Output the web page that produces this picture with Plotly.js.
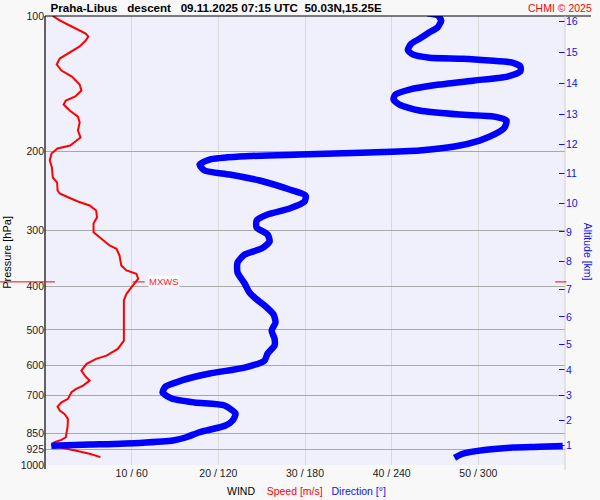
<!DOCTYPE html>
<html>
<head>
<meta charset="utf-8">
<script src="https://cdn.plot.ly/plotly-3.0.1.min.js"></script>
<style>html,body{margin:0;padding:0;background:#f8f8f8;}#chart{width:600px;height:500px;}</style>
</head>
<body>
<div id="chart"></div>
<script>
// Wind speed profile [m/s] vs pressure [hPa]
const speedPressure = [100, 102.3, 105.0, 107.7, 109.4, 111.1, 113.4, 116.9, 120.6, 124.4, 128.2, 132.3, 136.4, 142.1, 146.6, 151.1, 154.3, 157.5, 162.4, 167.5, 172.7, 179.9, 186.5, 194.3, 197.3, 202.4, 209.8, 217.5, 228.9, 234.9, 244.7, 248.5, 253.3, 258.9, 264.2, 271.1, 280.6, 289.8, 303.0, 310.9, 324.4, 330.0, 341.5, 359.5, 368.8, 375.1, 384.8, 398.2, 415.6, 430.1, 452.8, 501.9, 528.3, 551.3, 570.6, 580.4, 595.4, 616.2, 632.2, 648.7, 665.3, 676.7, 688.6, 712.3, 724.8, 741.0, 756.3, 769.3, 789.2, 823.9, 867.3, 879.0, 889.8, 905.0, 909.7, 915.8, 933.3, 944.1, 960.5];
const speedValue = [0.9, 1.7, 2.85, 4.0, 4.7, 5.0, 4.7, 4.0, 2.85, 1.7, 1.35, 1.9, 3.1, 4.0, 4.2, 3.5, 2.4, 2.15, 2.85, 3.8, 4.0, 3.8, 4.1, 2.9, 1.45, 0.75, 0.55, 0.8, 0.9, 1.4, 1.45, 1.7, 2.65, 3.8, 5.15, 5.9, 6.0, 5.6, 5.6, 6.3, 7.45, 8.25, 8.6, 8.8, 9.4, 10.55, 10.75, 10.15, 9.4, 9.1, 9.1, 9.1, 9.1, 8.4, 7.1, 5.9, 4.8, 4.2, 4.6, 5.15, 4.4, 3.6, 3.05, 2.65, 1.9, 1.45, 1.7, 2.25, 2.65, 2.6, 2.4, 1.9, 1.1, 0.75, 1.35, 2.1, 4.0, 5.15, 6.4];

// Wind direction [deg] vs pressure [hPa] (null = wrap through 360/0)
const dirPressure = [98.6, 99.7, 102.3, 105.9, 108.7, 112.4, 115.3, 119.0, 121.8, 123.9, 124.5, 125.6, 126.9, 129.5, 132.9, 136.4, 139.2, 142.1, 145.8, 149.6, 153.5, 157.5, 162.4, 165.8, 167.5, 170.9, 177.2, 183.6, 189.4, 195.3, 199.3, 201.4, 203.5, 205.6, 208.8, 214.2, 220.9, 225.4, 232.5, 243.5, 251.1, 258.9, 268.4, 276.8, 285.5, 295.8, 306.6, 317.8, 329.5, 339.8, 354.0, 372.7, 394.2, 412.9, 425.8, 441.4, 462.1, 481.5, 501.9, 523.0, 541.9, 564.6, 585.3, 606.7, 625.6, 648.2, 668.6, 689.5, 711.1, 725.9, 737.2, 768.2, 796.2, 816.8, 845.4, 867.3, 882.3, 892.8, 900.5, 906, null, 907, 911, 914.3, 925.1, 944.1, 963.8];
const dirValue = [264.8, 271.9, 274.3, 271.9, 266.2, 259.3, 253.5, 251.2, 254.6, 266.2, 289.2, 307.7, 322.9, 329.1, 329.1, 320.1, 297.3, 273.1, 252.3, 242.6, 241.3, 245.4, 259.3, 286.9, 311.1, 319.5, 318.1, 311.1, 300.8, 283.5, 259.3, 224.7, 176.2, 134.7, 114.0, 107.0, 110.5, 127.8, 148.6, 169.3, 180.4, 179.7, 169.3, 154.1, 146.5, 146.5, 154.1, 155.5, 149.9, 138.2, 133.3, 133.3, 138.2, 141.6, 145.8, 152.0, 158.2, 159.6, 156.9, 158.9, 158.9, 154.1, 152.0, 138.2, 114.0, 94.6, 83.5, 81.4, 87.7, 103.6, 124.3, 131.9, 129.9, 125.0, 107.0, 97.8, 88.6, 65.5, 30.9, 4.4, null, 358.4, 342.3, 323.8, 305.4, 289.2, 283.5];

// Axis ticks
const pressureTicks = [100, 200, 300, 400, 500, 600, 700, 850, 925, 1000];
const pressureLabels = ['100', '200', '300', '400', '500', '600', '700', '850', '925', '1000'];
const altitudeKm = ['1', '2', '3', '4', '5', '6', '7', '8', '9', '10', '11', '12', '13', '14', '15', '16'];
const altitudePressure = [902.6, 794, 698.5, 613.8, 537.7, 468.1, 406.1, 352.5, 302.7, 260.9, 223.7, 192.8, 165.3, 141.0, 120.3, 102.8];
const speedTicks = [10, 20, 30, 40, 50];
const windTickLabels = ['10 / 60', '20 / 120', '30 / 180', '40 / 240', '50 / 300'];

// Max wind level
const mxwsPressure = 391;
const mxwsSpeed = 10.8;

const FONT = 'Liberation Sans, Arial, sans-serif';
const pFrac = p => 3 - Math.log10(p); // paper y of a pressure (reversed log axis, 100 at top)

const traces = [
  {x: speedValue, y: speedPressure, type: 'scatter', mode: 'lines',
   line: {color: '#ff0000', width: 2}, xaxis: 'x', yaxis: 'y', hoverinfo: 'skip'},
  {x: dirValue, y: dirPressure, type: 'scatter', mode: 'lines',
   line: {color: '#0000ff', width: 6.5, shape: 'spline', smoothing: 0.6}, xaxis: 'x2', yaxis: 'y2', hoverinfo: 'skip'}
];

const layout = {
  width: 600, height: 500,
  margin: {l: 45, r: 35, t: 16, b: 35},
  paper_bgcolor: '#f8f8f8',
  plot_bgcolor: '#f0f0fc',
  showlegend: false,
  font: {family: FONT, size: 10.5, color: '#222'},
  title: {
    text: 'Praha-Libus\u00a0\u00a0\u00a0descent\u00a0\u00a0\u00a009.11.2025 07:15 UTC\u00a0\u00a050.03N,15.25E',
    font: {family: FONT, size: 11.6, color: '#000', weight: 'bold'},
    xref: 'container', x: 50.5 / 600, xanchor: 'left',
    yref: 'container', y: 1 - 8 / 500, yanchor: 'middle'
  },
  xaxis: {
    range: [0, 60], autorange: false, fixedrange: true,
    tickmode: 'array', tickvals: speedTicks, ticktext: windTickLabels,
    showgrid: true, gridcolor: '#d9d9d9', gridwidth: 1,
    zeroline: false, showline: false, ticks: '',
    tickfont: {family: FONT, size: 10.5, color: '#222'}
  },
  xaxis2: {range: [0, 360], autorange: false, overlaying: 'x', visible: false, fixedrange: true},
  yaxis: {
    type: 'log', range: [3, 2], autorange: false, fixedrange: true,
    tickmode: 'array', tickvals: pressureTicks, ticktext: pressureLabels,
    showgrid: true, gridcolor: '#a8a8a8', gridwidth: 1,
    zeroline: false, showline: false, ticks: '',
    tickfont: {family: FONT, size: 10.5, color: '#222'}
  },
  yaxis2: {
    type: 'log', range: [3, 2], autorange: false, fixedrange: true,
    overlaying: 'y', side: 'right',
    tickmode: 'array', tickvals: altitudePressure, ticktext: altitudeKm,
    ticks: 'inside', ticklen: 6, tickwidth: 1, tickcolor: '#1010ee',
    showgrid: false, zeroline: false, showline: false,
    tickfont: {family: FONT, size: 10.5, color: '#1010ee'}
  },
  shapes: [
    {type: 'line', xref: 'paper', yref: 'paper', x0: 0, x1: 1.05, y0: 1, y1: 1, line: {color: '#000', width: 1.2}},
    {type: 'line', xref: 'paper', yref: 'paper', x0: 0, x1: 0, y0: 1, y1: -0.009, line: {color: '#000', width: 1.2}},
    {type: 'line', xref: 'paper', yref: 'paper', x0: 1, x1: 1, y0: 1, y1: -0.011, line: {color: '#cfcfcf', width: 1}},
    {type: 'line', xref: 'paper', yref: 'paper', x0: -0.0865, x1: 0.019, y0: pFrac(mxwsPressure), y1: pFrac(mxwsPressure), line: {color: '#ff0000', width: 1}},
    {type: 'line', xref: 'paper', yref: 'paper', x0: 0.981, x1: 1.003, y0: pFrac(mxwsPressure), y1: pFrac(mxwsPressure), line: {color: '#ff0000', width: 1}},
    {type: 'line', xref: 'x', yref: 'paper', x0: mxwsSpeed - 0.7, x1: mxwsSpeed + 0.7, y0: pFrac(mxwsPressure), y1: pFrac(mxwsPressure), line: {color: '#ff0000', width: 1}}
  ],
  annotations: [
    {text: 'MXWS', xref: 'x', yref: 'paper', x: mxwsSpeed + 1.1, y: pFrac(mxwsPressure),
     xanchor: 'left', yanchor: 'middle', showarrow: false, bgcolor: 'rgba(255,255,255,0.85)', borderpad: 0,
     font: {family: FONT, size: 9.5, color: '#ff2020'}},
    {text: 'CHMI \u00a9 2025', xref: 'paper', yref: 'paper', x: (593.5 - 45) / 520, y: 1 + 8 / 449,
     xanchor: 'right', yanchor: 'middle', showarrow: false,
     font: {family: FONT, size: 10.5, color: '#ff0000'}},
    {text: 'Pressure [hPa]', xref: 'paper', yref: 'paper', x: (7.3 - 45) / 520, y: 0.4733,
     xanchor: 'center', yanchor: 'middle', textangle: -90, showarrow: false,
     font: {family: FONT, size: 11, color: '#000'}},
    {text: 'Altitude [km]', xref: 'paper', yref: 'paper', x: (588.3 - 45) / 520, y: 0.4744,
     xanchor: 'center', yanchor: 'middle', textangle: 90, showarrow: false,
     font: {family: FONT, size: 10.5, color: '#1010ee'}},
    {text: 'WIND\u00a0\u00a0\u00a0\u00a0<span style="color:#ff0000">Speed [m/s]</span>\u00a0\u00a0\u00a0<span style="color:#1010ee">Direction [\u00b0]</span>',
     xref: 'paper', yref: 'paper', x: (306.4 - 45) / 520, y: -(490.7 - 465) / 449,
     xanchor: 'center', yanchor: 'middle', showarrow: false,
     font: {family: FONT, size: 10.5, color: '#000'}}
  ]
};

Plotly.newPlot('chart', traces, layout, {staticPlot: true, displayModeBar: false});
</script>
</body>
</html>
